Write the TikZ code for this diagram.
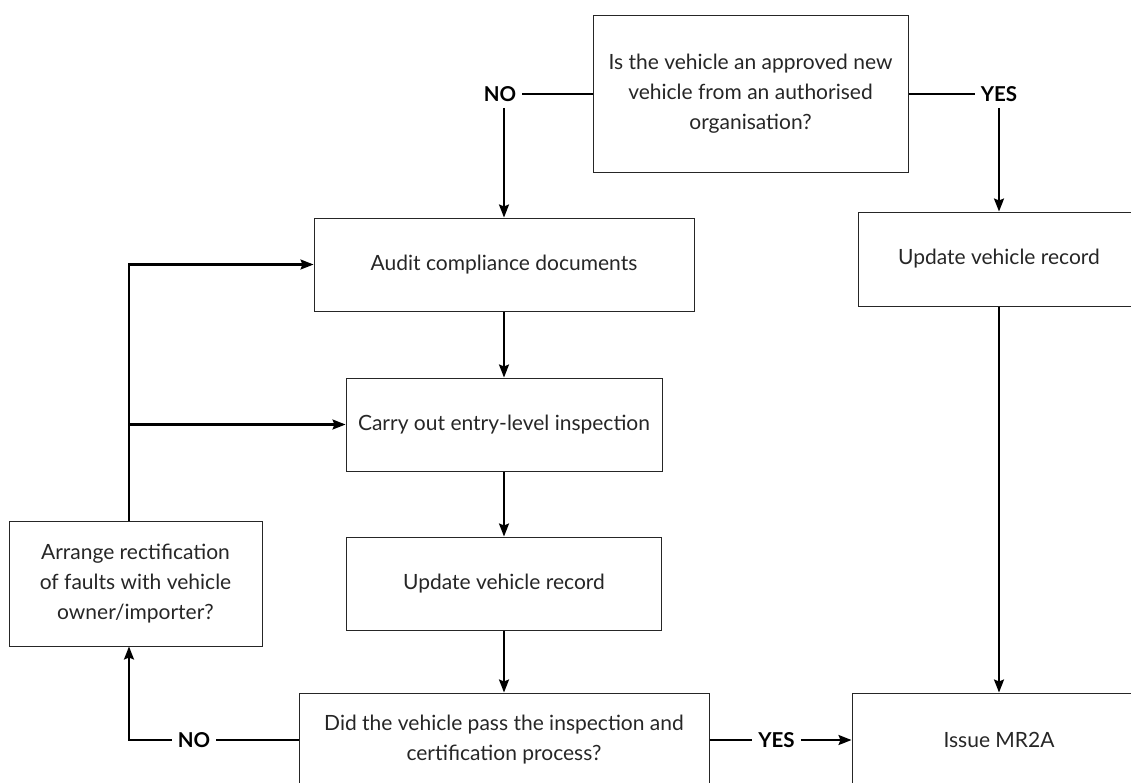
\documentclass[tikz,border=0pt]{standalone}
\usepackage{fontspec}
\setmainfont{Lato}
\usetikzlibrary{arrows.meta}

\begin{document}
\begin{tikzpicture}[
    x = 1pt, y = -1pt,
    >={Stealth[length=13pt, width=10pt, inset=2pt]},
    box/.style = {
        rectangle, draw = black!85, line width = 1pt,
        align = center, inner sep = 0pt, text = black!85,
        font = \fontsize{21}{30}\selectfont
    },
    answer/.style = {
        inner sep = 6pt, font = \fontsize{20.5}{24}\selectfont\bfseries
    },
    link/.style = {line width = 2.1pt},
    arrow/.style = {link, ->}
]
\useasboundingbox (0,0) rectangle (1131,782);

% --- Boxes placed by absolute coordinates (px) ---
\node[box, minimum width=315, minimum height=157] (approved) at (750.5, 94)
    {Is the vehicle an approved new\\vehicle from an authorised\\organisation?};

\node[box, minimum width=380, minimum height=93] (audit)   at (504, 264.5) {Audit compliance documents};

\node[box, minimum width=316, minimum height=93] (inspect) at (504, 424.5) {Carry out entry-level inspection};

\node[box, minimum width=315, minimum height=93] (update)  at (504, 583.5) {Update vehicle record};

\node[box, minimum width=410, minimum height=94] (passed)  at (504, 740)
    {Did the vehicle pass the inspection and\\certification process?};

\node[box, minimum width=253, minimum height=125] (rectify) at (135.5, 583.5)
    {Arrange rectification\\of faults with vehicle\\owner/importer?};

\node[box, minimum width=282, minimum height=94] (record)  at (999, 259) {Update vehicle record};

\node[box, minimum width=294, minimum height=94] (issue)   at (999, 740) {Issue MR2A};

% --- Answer labels ---
\node[answer] (noTop)     at (500, 94)    {NO};
\node[answer] (yesTop)    at (999, 94)    {YES};
\node[answer] (noBottom)  at (194, 740)   {NO};
\node[answer] (yesBottom) at (776.5, 740) {YES};

\coordinate (loop) at (129, 424.5);

% --- Arrows ---
\draw[link]  (approved) -- (noTop);
\draw[arrow] (noTop.south -| audit.north) -- (audit);

\draw[link]  (approved) -- (yesTop);
\draw[arrow] (yesTop) -- (record);
\draw[arrow] (record) -- (issue);

\draw[arrow] (audit)   -- (inspect);
\draw[arrow] (inspect) -- (update);
\draw[arrow] (update)  -- (passed);

\draw[link]  (passed) -- (yesBottom);
\draw[arrow] (yesBottom) -- (issue);

\draw[link]  (passed) -- (noBottom);
\draw[arrow] (noBottom.west) -| (rectify.south -| loop);

\draw[arrow] (rectify.north -| loop) |- (audit.west);
\draw[arrow] (loop) -- (inspect.west);

\end{tikzpicture}
\end{document}
